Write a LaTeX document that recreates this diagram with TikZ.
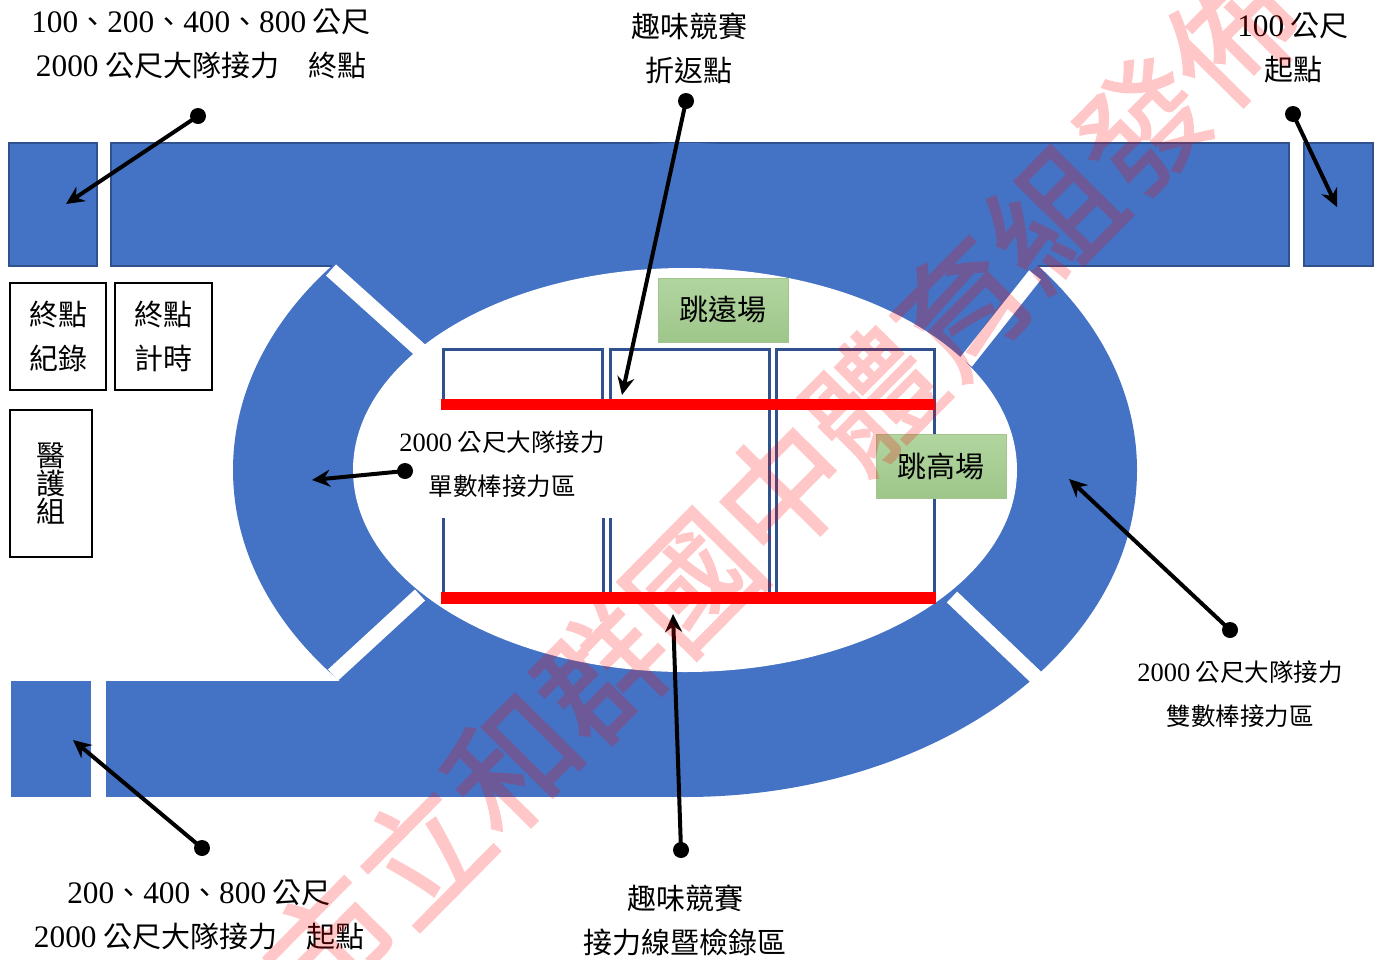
\documentclass[tikz,border=0pt]{standalone}
\usepackage{fontspec}
\setmainfont{Noto Sans CJK TC}
\newfontfamily\digitfont[Scale=1.08]{Liberation Serif}
\newfontfamily\stampfont[FakeBold=1.5]{Noto Sans CJK TC}
\newcommand{\dg}[1]{{\digitfont #1}}
\usepackage{tikz}
\usetikzlibrary{arrows.meta}
\definecolor{trackblue}{HTML}{4472C4}
\definecolor{edgeblue}{HTML}{2F528F}
\definecolor{pittop}{HTML}{B2D5A0}
\definecolor{pitbottom}{HTML}{9EC68A}
\definecolor{pitedge}{HTML}{A3C48D}

\begin{document}
\begin{tikzpicture}[
    x=1pt, y=-1pt,
    band/.style={fill=trackblue, draw=edgeblue, line width=1.2pt},
    gap/.style={draw=white, line width=15pt},
    lane/.style={draw=edgeblue, line width=3pt},
    redbar/.style={fill=red, draw=none},
    pit/.style={draw=pitedge, line width=1pt, top color=pittop, bottom color=pitbottom, minimum width=130pt, minimum height=64pt, font=\fontsize{29}{29}\selectfont},
    post/.style={draw=black, line width=2.5pt, align=center, font=\fontsize{29}{44}\selectfont},
    lab/.style={align=center, font=\fontsize{29}{44}\selectfont},
    smalllab/.style={align=center, font=\fontsize{24.5}{44}\selectfont},
    dot/.style={circle, fill=black, inner sep=0pt, minimum size=16pt},
    arrow/.style={-{Stealth[length=18pt, width=17pt]}, line width=4pt}
]
    \useasboundingbox (0,0) rectangle (1381,959);
    \clip (0,0) rectangle (1381,959);

    % Bandes droites
    \path[band] (9,143) rectangle (97,266);
    \path[band] (111,143) rectangle (1289,266);
    \path[band] (1304,143) rectangle (1373,266);
    \fill[trackblue] (11,681) rectangle (91,797);
    \fill[trackblue] (106,681) rectangle (685,797);

    % Anneau
    \fill[trackblue] (685,470) ellipse [x radius=452, y radius=327];
    \fill[white] (685,470) ellipse [x radius=332, y radius=202];

    % Coupures
    \draw[gap] (331,270) -- (420,350);
    \draw[gap] (333,675) -- (420,595);
    \draw[gap] (1040,681) -- (952,597);
    \draw[gap] (1035,275) -- (966,362);

    % Couloirs
    \draw[lane] (443,400) -- (443,349) -- (602,349) -- (602,400);
    \draw[lane] (610,400) -- (610,349) -- (769,349) -- (769,592);
    \draw[lane] (776,592) -- (776,349) -- (934,349) -- (934,592);
    \draw[lane] (443,518) -- (443,592);
    \draw[lane] (603,518) -- (603,592);
    \draw[lane] (610,518) -- (610,592);
    \path[redbar] (441,399) rectangle (935,410);
    \path[redbar] (441,592) rectangle (936,604);

    % Postes
    \node[post, minimum width=96pt, minimum height=107pt] (record) at (58,336.5) {終點\\紀錄};
    \node[post, minimum width=97pt, minimum height=107pt] (timing) at (163.5,336.5) {終點\\計時};
    \node[post, minimum width=82pt, minimum height=147pt, font=\fontsize{29}{28}\selectfont] (medic) at (51,483.5) {醫\\護\\組};

    % Sautoirs
    \node[pit] (longjump) at (723,310) {跳遠場};
    \node[pit] (highjump) at (941,466) {跳高場};

    % Textes
    \node[lab] (finish) at (201,44) {\dg{100}、\dg{200}、\dg{400}、\dg{800} 公尺\\\dg{2000} 公尺大隊接力　終點};
    \node[lab] (turn) at (689,48) {趣味競賽\\折返點};
    \node[lab] (start) at (1293,48) {\dg{100} 公尺\\起點};
    \node[smalllab] (single) at (502,464) {\dg{2000} 公尺大隊接力\\單數棒接力區};
    \node[smalllab] (double) at (1240,694) {\dg{2000} 公尺大隊接力\\雙數棒接力區};
    \node[lab] (begin) at (199,915) {\dg{200}、\dg{400}、\dg{800} 公尺\\\dg{2000} 公尺大隊接力　起點};
    \node[lab] (check) at (685,920) {趣味競賽\\接力線暨檢錄區};

    % Fleches
    \node[dot] (finishdot) at (198,116) {};
    \node[dot] (turndot) at (686,101) {};
    \node[dot] (startdot) at (1293,114) {};
    \node[dot] (singledot) at (405,471) {};
    \node[dot] (doubledot) at (1230,630) {};
    \node[dot] (checkdot) at (681,850) {};
    \node[dot] (begindot) at (202,848) {};
    \coordinate (finishend) at (66,204);
    \coordinate (turnend) at (622,395);
    \coordinate (startend) at (1337,207);
    \coordinate (singleend) at (312,480);
    \coordinate (doubleend) at (1069,479);
    \coordinate (checkend) at (673,614);
    \coordinate (beginend) at (73,740);
    \draw[arrow] (finishdot.center) -- (finishend);
    \draw[arrow] (turndot.center) -- (turnend);
    \draw[arrow] (startdot.center) -- (startend);
    \draw[arrow] (singledot.center) -- (singleend);
    \draw[arrow] (doubledot.center) -- (doubleend);
    \draw[arrow] (checkdot.center) -- (checkend);
    \draw[arrow] (begindot.center) -- (beginend);

    % Filigrane
    \begin{scope}[transparency group, opacity=0.22]
        \node[text=red, rotate=45.3, inner sep=0pt, font=\fontsize{128}{128}\selectfont\stampfont] (stamp) at (692,581) {臺中市立和群國中體育組發佈};
    \end{scope}
\end{tikzpicture}
\end{document}
